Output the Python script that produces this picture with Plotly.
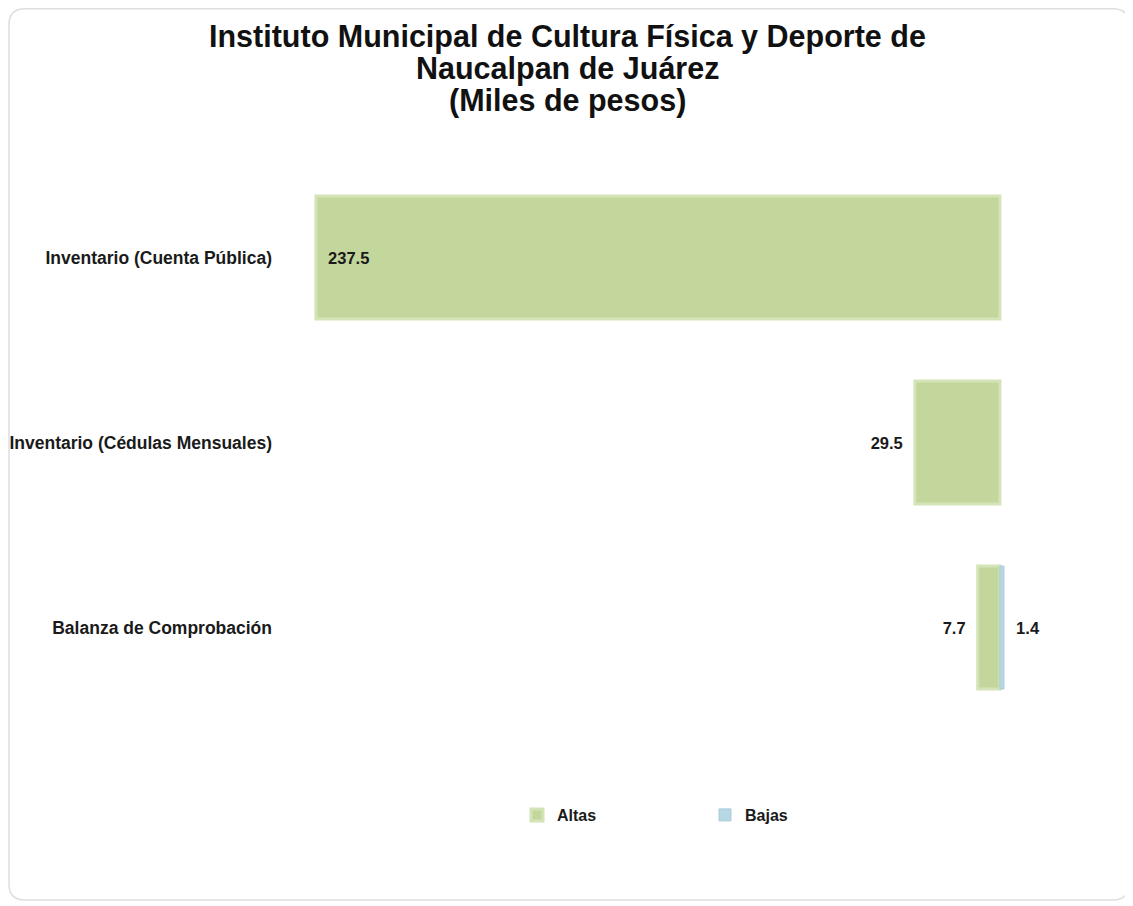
import plotly.graph_objects as go

title_lines = ["Instituto Municipal de Cultura Física y Deporte de", "Naucalpan de Juárez", "(Miles de pesos)"]
categories = ["Inventario (Cuenta Pública)", "Inventario (Cédulas Mensuales)", "Balanza de Comprobación"]
altas = [237.5, 29.5, 7.7]
bajas = [None, None, 1.4]

# figure sits at an 8px page offset (default body margin)
W, H = 1125, 898
ML, MR, MT, MB = 282, 13, 157, 186
pw = W - ML - MR
ph = H - MT - MB

NB = "\u00a0"
alt_pos = ["inside", "outside", "outside"]
alt_text = [(NB * 2 + f"{v:.1f}") if p == "inside" else (f"{v:.1f}" + NB * 2)
            for v, p in zip(altas, alt_pos)]
baj_text = [("" if v is None else NB * 2 + f"{v:.1f}") for v in bajas]

lab_font = dict(family="Arial", size=16.5, color="#1a1a1a", weight="bold")

fig = go.Figure()
fig.add_trace(go.Bar(
    y=categories, x=[-v for v in altas], orientation="h", name="Altas",
    marker=dict(color="#C3D69B", line=dict(color="#D5E3B8", width=3)),
    text=alt_text, textposition=alt_pos, insidetextanchor="end",
    textfont=lab_font, cliponaxis=False, width=0.665, hoverinfo="skip",
))
fig.add_trace(go.Bar(
    y=categories, x=bajas, orientation="h", name="Bajas",
    marker=dict(color="#B7D7E4", line=dict(color="#A9CBD9", width=1)),
    text=baj_text, textposition="outside",
    textfont=lab_font, cliponaxis=False, width=0.665, hoverinfo="skip",
))

def px2x(px):
    return (px - ML) / pw

def py2y(py):
    return (MT + ph - py) / ph

# rounded frame
x0, x1, y0, y1 = px2x(1), px2x(1121), py2y(892), py2y(0.75)
r = 16
rx, ry = r / pw, r / ph
path = (f"M {x0+rx},{y1} L {x1-rx},{y1} Q {x1},{y1} {x1},{y1-ry} L {x1},{y0+ry} "
        f"Q {x1},{y0} {x1-rx},{y0} L {x0+rx},{y0} Q {x0},{y0} {x0},{y0+ry} "
        f"L {x0},{y1-ry} Q {x0},{y1} {x0+rx},{y1} Z")
fig.add_shape(type="path", path=path, xref="paper", yref="paper",
              line=dict(color="#DEDEDE", width=1.5), fillcolor="rgba(0,0,0,0)", layer="below")

# title lines (tight Excel-like line spacing)
for line, yc in zip(title_lines, [29, 60, 92]):
    fig.add_annotation(text=line, x=px2x(559), y=py2y(yc), xref="paper", yref="paper",
                       xanchor="center", yanchor="middle", showarrow=False,
                       font=dict(family="Arial", size=30.5, color="#111111", weight="bold"))

fig.update_layout(
    width=W, height=H,
    margin=dict(l=ML, r=MR, t=MT, b=MB, autoexpand=False),
    paper_bgcolor="white", plot_bgcolor="white",
    barmode="relative",
    xaxis=dict(range=[-246.5, 41.7], visible=False, showgrid=False, zeroline=False,
               automargin=False),
    yaxis=dict(categoryorder="array", categoryarray=categories, autorange="reversed",
               showgrid=False, zeroline=False, showline=False, automargin=False,
               ticks="", ticklabelstandoff=17,
               tickfont=dict(family="Arial", size=17.5, color="#1a1a1a", weight="bold")),
    legend=dict(orientation="h", x=px2x(509), xanchor="left", y=py2y(807), yanchor="middle",
                font=dict(family="Arial", size=16, color="#1a1a1a", weight="bold"),
                itemwidth=30, entrywidth=143, entrywidthmode="pixels"),
    showlegend=True,
)
fig.write_html("out.html")
